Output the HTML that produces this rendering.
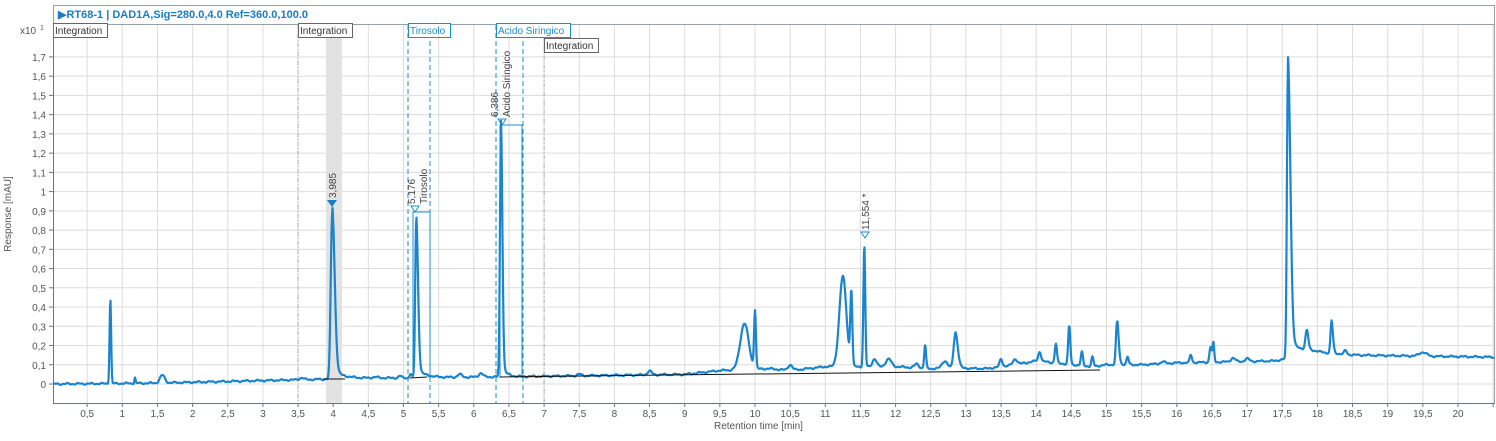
<!DOCTYPE html>
<html><head><meta charset="utf-8"><style>
body{margin:0;background:#fff;width:1496px;height:436px;overflow:hidden;font-family:"Liberation Sans",sans-serif}
</style></head><body>
<svg id="s" width="1496" height="436" xmlns="http://www.w3.org/2000/svg" font-family="Liberation Sans, sans-serif">
<rect x="0" y="0" width="1496" height="436" fill="#fff"/>
<rect x="53.5" y="5.5" width="1441" height="398" fill="#fff" stroke="#9aa0a8"/>
<line x1="53" y1="24.5" x2="1495" y2="24.5" stroke="#9aa0a8"/>
<text x="58" y="18" font-size="11" font-weight="bold" fill="#1a7cc1">▶RT68-1 | DAD1A,Sig=280.0,4.0  Ref=360.0,100.0</text>
<g id="grid"></g>
<rect x="326" y="25" width="16" height="378" fill="#e2e2e2"/>
<g id="marks"></g>
<path id="curve" fill="none" stroke="#1a84cf" stroke-width="2.2" stroke-linejoin="round"/>
<line x1="500" y1="377" x2="1100" y2="370" stroke="#111" stroke-width="1"/>
<line x1="323" y1="379" x2="345" y2="379" stroke="#111" stroke-width="1"/>
<line x1="410" y1="378" x2="427" y2="377" stroke="#111" stroke-width="1"/>
<line x1="53" y1="403.5" x2="1495" y2="403.5" stroke="#6d7380"/>
<line x1="53.5" y1="24" x2="53.5" y2="404" stroke="#6d7380"/>
<text x="714" y="429" font-size="10" fill="#555">Retention time [min]</text>
<text transform="translate(11,214) rotate(-90)" text-anchor="middle" font-size="10" fill="#555">Response [mAU]</text>
<text x="20" y="34" font-size="10" fill="#555">x10</text><text x="40" y="30" font-size="7" fill="#555">1</text>
</svg>
<script>
const X=t=>52+70.3*t, Y=v=>384-192.4*v;
const g=document.getElementById('grid'),m=document.getElementById('marks');
let h='';
for(let i=1;i<=41;i++){const x=X(i*0.5);if(x>1494)break;h+=`<line x1="${x}" y1="25" x2="${x}" y2="403" stroke="#dcdcdc"/>`;
h+=`<line x1="${x}" y1="403" x2="${x}" y2="407" stroke="#6d7380"/>`;
let lab=(i*0.5).toString().replace('.',',');if(i<=40)h+=`<text x="${x}" y="417" font-size="10" fill="#555" text-anchor="middle">${lab}</text>`;}
for(let i=0;i<=17;i++){const y=Y(i/10);h+=`<line x1="54" y1="${y}" x2="1494" y2="${y}" stroke="#dcdcdc"/><line x1="49" y1="${y}" x2="53" y2="${y}" stroke="#6d7380"/>`;
let lab=i==0?'0':i==10?'1':(i/10).toString().replace('.',',');h+=`<text x="46" y="${y+4}" font-size="10" fill="#555" text-anchor="end">${lab}</text>`;}
g.innerHTML=h;
function box(x,y,w,txt,c){return `<rect x="${x+.5}" y="${y+.5}" width="${w}" height="14" fill="#fff" stroke="${c}"/><text x="${x+2}" y="${y+11}" font-size="10" fill="${c=='#666'?'#333':'#1a8fd0'}">${txt}</text>`;}
let k='';
k+=`<line x1="${X(3.5)}" y1="25" x2="${X(3.5)}" y2="403" stroke="#aaa" stroke-dasharray="4,2,1,2"/>`;
k+=`<line x1="${X(7)}" y1="38" x2="${X(7)}" y2="403" stroke="#aaa" stroke-dasharray="4,2,1,2"/>`;
[408,430,496,523].forEach(x=>k+=`<line x1="${x}" y1="25" x2="${x}" y2="403" stroke="#1a8fd0" stroke-dasharray="5,3"/>`);
k+=box(53,23,54,'Integration','#666')+box(298,23,54,'Integration','#666')+box(408,23,42,'Tirosolo','#1a8fd0')+box(496,23,74,'Acido Siringico','#1a8fd0')+box(544,38,54,'Integration','#666');
k+=`<polyline points="413,378 413,212 430,212 430,378" fill="none" stroke="#1a8fd0"/>`;
k+=`<polyline points="500,378 500,125 522,125 522,378" fill="none" stroke="#1a8fd0"/>`;
k+=`<path d="M327,200 L337,200 L332,207Z" fill="#1a7cc1"/>`;
k+=`<path d="M411,206 L419,206 L415,212Z" fill="#fff" stroke="#1a8fd0"/>`;
k+=`<path d="M498,119 L506,119 L502,125Z" fill="#fff" stroke="#1a8fd0"/>`;
k+=`<path d="M861,232 L869,232 L865,238Z" fill="#fff" stroke="#1a8fd0"/>`;
function vt(x,y,t){return `<text transform="translate(${x},${y}) rotate(-90)" font-size="10" fill="#444">${t}</text>`;}
k+=vt(336,198,'3,985')+vt(415,204,'5,176')+vt(427,204,'Tirosolo')+vt(498,117,'6,386')+vt(510,117,'Acido Siringico')+vt(869,230,'11,554 *');
m.innerHTML=k;
function base(t){const pts=[[0,0],[0.8,0.002],[1.5,0.005],[3.5,0.022],[4.5,0.03],[6.5,0.038],[9,0.05],[9.5,0.07],[10.2,0.08],[10.5,0.07],[11,0.09],[12,0.09],[12.5,0.08],[13.3,0.08],[13.7,0.1],[14,0.12],[14.8,0.09],[15,0.1],[15.5,0.1],[16,0.11],[17.4,0.12],[17.9,0.16],[18.5,0.15],[20.5,0.14]];
for(let i=1;i<pts.length;i++)if(t<=pts[i][0]){const a=pts[i-1],b=pts[i];return a[1]+(b[1]-a[1])*(t-a[0])/(b[0]-a[0]);}return 0.14;}
const P=[[0.83,0.44,0.011,0],[1.18,0.03,0.008,0],[1.57,0.04,0.035,0],[3.55,0.01,0.03,0],[3.985,0.85,0.02,0.05],[4.6,0.004,0.05,0],[4.95,0.01,0.02,0],[5.1,0.02,0.015,0],[5.18,0.8,0.014,0.04],[5.8,0.015,0.03,0],[6.1,0.02,0.03,0],[6.386,1.26,0.014,0.02],[7.5,0.008,0.03,0],[8.5,0.02,0.03,0],[9.85,0.24,0.06,0],[10.0,0.3,0.013,0],[10.5,0.03,0.03,0],[11.25,0.47,0.05,0],[11.37,0.38,0.014,0],[11.555,0.63,0.013,0],[11.7,0.04,0.03,0],[11.9,0.04,0.04,0],[12.3,0.02,0.03,0],[12.42,0.12,0.013,0],[12.7,0.04,0.04,0],[12.85,0.18,0.025,0.03],[13.5,0.04,0.02,0],[13.7,0.03,0.03,0],[14.05,0.05,0.02,0],[14.28,0.1,0.015,0],[14.47,0.2,0.015,0],[14.65,0.07,0.015,0],[14.8,0.05,0.015,0],[15.15,0.22,0.016,0.02],[15.3,0.04,0.015,0],[15.8,0.01,0.03,0],[16.2,0.04,0.015,0],[16.48,0.08,0.015,0],[16.52,0.1,0.012,0],[16.8,0.02,0.03,0],[17.0,0.015,0.03,0],[17.58,1.48,0.014,0.07],[17.85,0.1,0.02,0],[18.2,0.16,0.014,0.02],[18.4,0.02,0.02,0],[19.5,0.02,0.05,0]];
let d='';
for(let x=53;x<=1494;x+=0.5){const t=(x-52)/70.3;let v=base(t)+0.003*Math.sin(t*37)+0.002*Math.sin(t*91);
for(const [c,a,s,tail] of P){let dt=t-c;let w=s+(dt>0?tail:0)*0.3;v+=a*Math.exp(-dt*dt/(2*w*w));if(tail&&dt>0)v+=a*0.06*Math.exp(-dt/(tail*3));}
d+=(d?'L':'M')+x.toFixed(1)+','+Y(v).toFixed(1);}
document.getElementById('curve').setAttribute('d',d);
</script>
</body></html>
